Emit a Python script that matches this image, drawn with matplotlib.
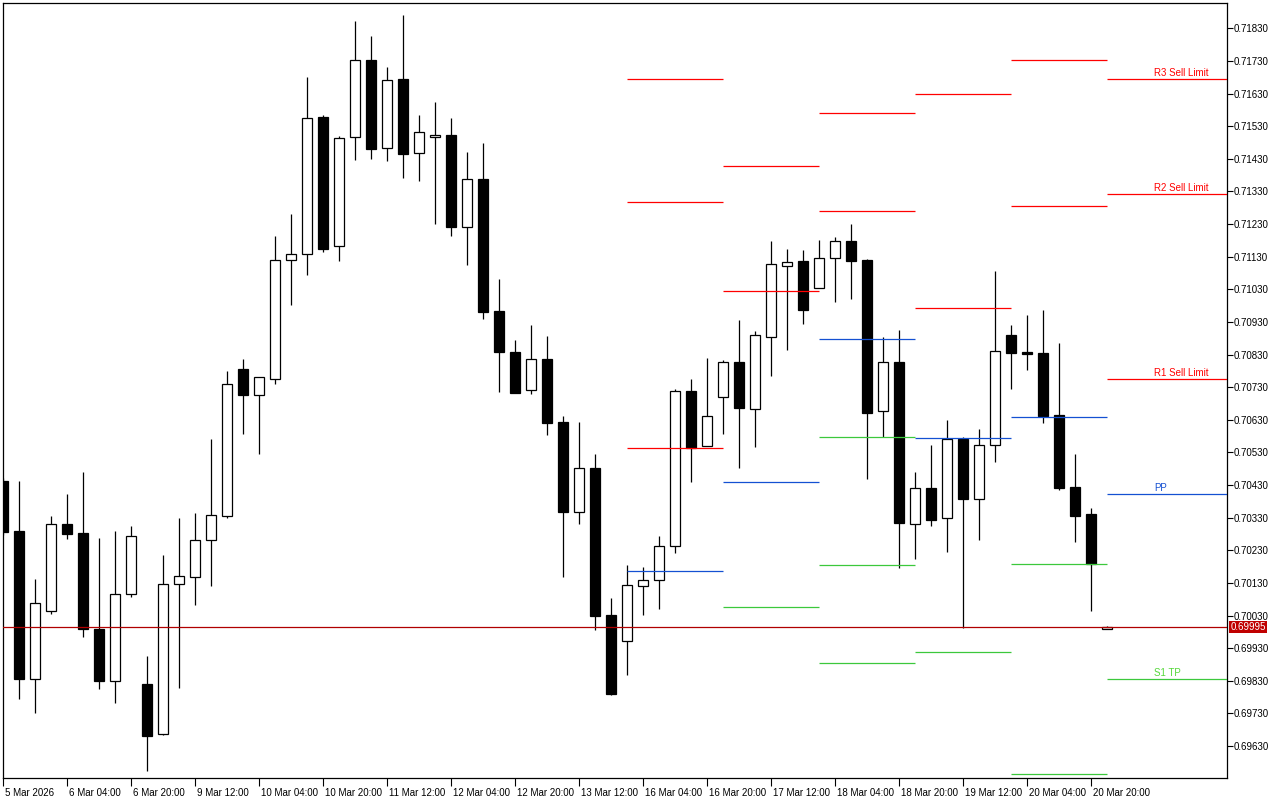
import numpy as np
import matplotlib
matplotlib.use("Agg")
import matplotlib.pyplot as plt
import matplotlib.transforms as mtransforms

# H4 candles, 5 Mar 12:00 .. 23 Mar 00:00
opens = [0.70443, 0.70289, 0.69836, 0.70044, 0.70311, 0.70283, 0.69989, 0.69830, 0.70096, 0.69820,
         0.69667, 0.70127, 0.70148, 0.70262, 0.70335, 0.70786, 0.70706, 0.70755, 0.71120, 0.71138,
         0.71558, 0.71163, 0.71497, 0.71733, 0.71463, 0.71675, 0.71448, 0.71497, 0.71503, 0.71221,
         0.71368, 0.70964, 0.70838, 0.70721, 0.70816, 0.70623, 0.70348, 0.70482, 0.70032, 0.69952,
         0.70121, 0.70139, 0.70243, 0.70718, 0.70550, 0.70700, 0.70807, 0.70663, 0.70884, 0.71101,
         0.71117, 0.71034, 0.71126, 0.71178, 0.71120, 0.70657, 0.70807, 0.70311, 0.70421, 0.70329,
         0.70571, 0.70387, 0.70553, 0.70890, 0.70838, 0.70835, 0.70645, 0.70424, 0.70341, 0.69989]
highs = [0.70452, 0.70443, 0.70142, 0.70335, 0.70403, 0.70470, 0.70268, 0.70289, 0.70305, 0.69906,
         0.70216, 0.70329, 0.70344, 0.70571, 0.70780, 0.70816, 0.70761, 0.71193, 0.71261, 0.71681,
         0.71564, 0.71500, 0.71852, 0.71806, 0.71711, 0.71871, 0.71564, 0.71604, 0.71555, 0.71451,
         0.71478, 0.71062, 0.70875, 0.70921, 0.70887, 0.70642, 0.70623, 0.70525, 0.70084, 0.70185,
         0.70179, 0.70274, 0.70724, 0.70755, 0.70820, 0.70813, 0.70936, 0.70902, 0.71178, 0.71154,
         0.71151, 0.71181, 0.71190, 0.71230, 0.71123, 0.70884, 0.70905, 0.70470, 0.70553, 0.70629,
         0.70577, 0.70602, 0.71086, 0.70921, 0.70951, 0.70967, 0.70866, 0.70525, 0.70360, 0.69998]
lows = [0.70277, 0.69774, 0.69731, 0.70035, 0.70265, 0.69964, 0.69805, 0.69762, 0.70087, 0.69554,
        0.69664, 0.69808, 0.70062, 0.70121, 0.70329, 0.70587, 0.70525, 0.70740, 0.70982, 0.71074,
        0.71144, 0.71117, 0.71426, 0.71429, 0.71423, 0.71371, 0.71362, 0.71230, 0.71193, 0.71105,
        0.70939, 0.70715, 0.70712, 0.70709, 0.70583, 0.70148, 0.70311, 0.69986, 0.69787, 0.69848,
        0.70032, 0.70050, 0.70222, 0.70439, 0.70550, 0.70587, 0.70482, 0.70547, 0.70764, 0.70844,
        0.70924, 0.71034, 0.70991, 0.71000, 0.70449, 0.70577, 0.70176, 0.70203, 0.70305, 0.70225,
        0.69992, 0.70262, 0.70501, 0.70724, 0.70783, 0.70620, 0.70415, 0.70256, 0.70044, 0.69988]
closes = [0.70286, 0.69836, 0.70069, 0.70311, 0.70280, 0.69989, 0.69830, 0.70096, 0.70274, 0.69661,
          0.70127, 0.70151, 0.70262, 0.70338, 0.70740, 0.70706, 0.70761, 0.71120, 0.71138, 0.71555,
          0.71154, 0.71494, 0.71733, 0.71460, 0.71672, 0.71445, 0.71512, 0.71503, 0.71221, 0.71368,
          0.70960, 0.70838, 0.70712, 0.70816, 0.70620, 0.70348, 0.70482, 0.70029, 0.69790, 0.70124,
          0.70139, 0.70243, 0.70718, 0.70544, 0.70642, 0.70807, 0.70666, 0.70890, 0.71108, 0.71114,
          0.70967, 0.71126, 0.71178, 0.71117, 0.70651, 0.70807, 0.70314, 0.70421, 0.70323, 0.70571,
          0.70387, 0.70553, 0.70841, 0.70835, 0.70832, 0.70642, 0.70421, 0.70335, 0.70188, 0.69995]

date_labels = ["5 Mar 2026", "6 Mar 04:00", "6 Mar 20:00", "9 Mar 12:00", "10 Mar 04:00",
               "10 Mar 20:00", "11 Mar 12:00", "12 Mar 04:00", "12 Mar 20:00", "13 Mar 12:00",
               "16 Mar 04:00", "16 Mar 20:00", "17 Mar 12:00", "18 Mar 04:00", "18 Mar 20:00",
               "19 Mar 12:00", "20 Mar 04:00", "20 Mar 20:00"]
bars_per_label = 4

# daily pivot levels, one segment per day (start bar index)
day_start = [39, 45, 51, 57, 63, 69]
r3 = [0.71675, None, None, None, None, 0.71675]
r2 = [0.71298, 0.71408, 0.71570, 0.71629, 0.71733, 0.71322]
r1 = [0.70544, 0.71025, 0.71270, 0.70973, 0.71285, 0.70755]
pp = [0.70167, 0.70439, 0.70878, 0.70574, 0.70639, 0.70403]
s1 = [None, 0.70056, 0.70577, 0.69918, 0.70188, 0.69836]
s2 = [None, None, 0.70185, None, 0.69544, None]
s3 = [None, None, 0.69885, None, None, None]

last_labels = {"R3 Sell Limit": 0.71675, "R2 Sell Limit": 0.71322, "R1 Sell Limit": 0.70755,
               "PP": 0.70403, "S1 TP": 0.69836}

price_now = 0.69995

RED = "#FF0000"
BLUE = "#1450D2"
GREEN = "#3CC83C"


def main():
    plt.rcParams["font.family"] = ["Liberation Sans", "DejaVu Sans"]
    fig = plt.figure(figsize=(12.8, 8), dpi=100)
    ax = fig.add_axes([3 / 1280, 22 / 800, 1224 / 1280, 775 / 800])

    o = np.array(opens)
    h = np.array(highs)
    l = np.array(lows)
    c = np.array(closes)
    x = np.arange(len(o))
    up = c >= o

    ax.vlines(x, l, h, color="black", lw=0.9, zorder=2)
    ax.bar(x, np.abs(c - o), bottom=np.minimum(o, c), width=0.66,
           color=np.where(up, "white", "black"), edgecolor="black", lw=0.9, zorder=3)

    xmax = 76.5
    ends = day_start[1:] + [xmax]
    for levels, col in [(r3, RED), (r2, RED), (r1, RED), (pp, BLUE),
                        (s1, GREEN), (s2, GREEN), (s3, GREEN)]:
        for start, end, lev in zip(day_start, ends, levels):
            if lev is not None:
                ax.hlines(lev, start, end, color=col, lw=0.9, zorder=4)

    label_cols = {"R3 Sell Limit": RED, "R2 Sell Limit": RED, "R1 Sell Limit": RED,
                  "PP": BLUE, "S1 TP": "#55D83A"}
    for txt, lev in last_labels.items():
        ax.annotate(txt, xy=(71.95, lev), xytext=(0, 2.2), textcoords="offset points",
                    ha="left", va="baseline", fontsize=7, color=label_cols[txt], zorder=5)

    ax.axhline(price_now, color="#B00000", lw=0.9, zorder=4)
    ax.annotate(f"{price_now:.5f}", xy=(1, price_now), xycoords=("axes fraction", "data"),
                xytext=(2.6, 0), textcoords="offset points", ha="left", va="center",
                fontsize=7, color="white", annotation_clip=False,
                bbox=dict(boxstyle="square,pad=0.15", fc="#C00000", ec="none"))

    ax.set_xlim(0, xmax)
    ax.set_ylim(0.695322, 0.719075)

    yt = np.arange(0.69630, 0.71831, 0.001)
    ax.yaxis.tick_right()
    ax.set_yticks(yt, [f"{v:.5f}" for v in yt])
    ax.tick_params(axis="y", direction="out", length=4, width=0.8, pad=1, labelsize=7)

    ax.set_xticks(np.arange(len(date_labels)) * bars_per_label, date_labels)
    ax.tick_params(axis="x", direction="out", length=6, width=0.8, pad=1, labelsize=7)
    shift = mtransforms.ScaledTranslation(2 / 100, 0, fig.dpi_scale_trans)
    for t in ax.get_xticklabels():
        t.set_ha("left")
        t.set_transform(t.get_transform() + shift)

    for sp in ax.spines.values():
        sp.set_linewidth(0.9)
        sp.set_color("black")

    fig.savefig("out.png", dpi=100, facecolor="white")


if __name__ == "__main__":
    main()
